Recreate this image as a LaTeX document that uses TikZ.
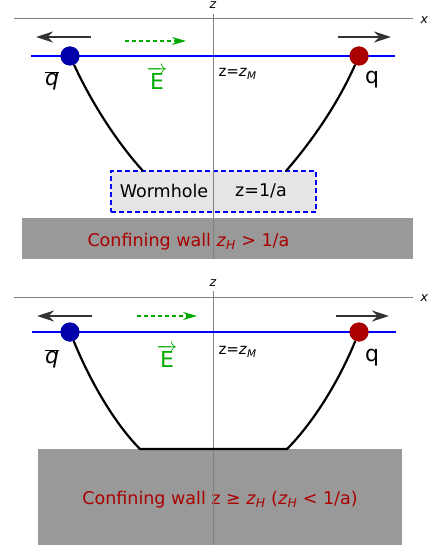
\documentclass[tikz,border=0pt]{standalone}
\usepackage{fontspec}
\setmainfont{DejaVu Sans}
\usepackage{tikz}
\usetikzlibrary{positioning,arrows.meta,calc}
\usepackage{xcolor}
\definecolor{quarkBlue}{HTML}{0000AA}
\definecolor{quarkRed}{HTML}{AA0000}
\definecolor{fieldGreen}{HTML}{00AA00}
\definecolor{wallGray}{HTML}{999999}
\definecolor{holeGray}{HTML}{E6E6E6}
\definecolor{axisGray}{HTML}{808080}

\begin{document}
\begin{tikzpicture}[x=1pt, y=-1pt,
    axisLine/.style={draw=axisGray, line width=1pt},
    braneLine/.style={draw=blue, line width=2pt},
    stringLine/.style={draw=black, line width=2.2pt},
    antiNode/.style={circle, fill=quarkBlue, inner sep=0pt, minimum size=19pt},
    quarkNode/.style={circle, fill=quarkRed, inner sep=0pt, minimum size=19pt},
    pullArrow/.style={-{Stealth[length=17pt,width=11pt]}, line width=1.6pt, draw=black!80},
    fieldArrow/.style={-{Stealth[length=14pt,width=8pt]}, dash pattern=on 4pt off 3pt, line width=1.1pt, draw=fieldGreen},
    wallBox/.style={rectangle, fill=wallGray, inner sep=0pt},
    holeBox/.style={rectangle, fill=holeGray, draw=blue, dash pattern=on 5pt off 3pt, line width=1.8pt, inner sep=0pt},
    axisFont/.style={font=\fontsize{12.5}{14}\selectfont\itshape},
    bigFont/.style={font=\fontsize{22}{24}\selectfont},
    smallFont/.style={font=\fontsize{15}{17}\selectfont},
    labelFont/.style={font=\fontsize{17.5}{20}\selectfont}
]
    \useasboundingbox (0,0) rectangle (429,545);

    % Panel (a)
    \node[wallBox, minimum width=391pt, minimum height=41pt] (wallA) at (217.5,238.5) {};
    \node[holeBox, minimum width=205pt, minimum height=41pt] (holeA) at (213.5,191.5) {};
    \node[labelFont, anchor=west, text=quarkRed] at (84,242) {Confining wall \textit{z}\textsubscript{\textit{H}} > 1/a};
    \node[labelFont] at (164,191) {Wormhole};
    \node[labelFont] at (261,191) {z=1/a};

    \coordinate (zTopA) at (213,14);
    \coordinate (zBotA) at (213,259);
    \coordinate (xLeftA) at (14,19);
    \coordinate (xRightA) at (413,19);
    \draw[axisLine] (zTopA) -- (zBotA);
    \draw[axisLine] (xLeftA) -- (xRightA);
    \node[axisFont] at (213,5) {z};
    \node[axisFont, anchor=west] at (417,20) {x};

    \coordinate (braneLA) at (31,56);
    \coordinate (braneRA) at (395,56);
    \draw[braneLine] (braneLA) -- (braneRA);

    \coordinate (endLA) at (143,171);
    \coordinate (endRA) at (286,171);
    \node[antiNode] (qbarA) at (70,56) {};
    \node[quarkNode] (qA) at (359,56) {};
    \draw[stringLine] (qbarA) .. controls (95,110) and (122,148) .. (endLA);
    \draw[stringLine] (qA) .. controls (335,110) and (306,148) .. (endRA);
    \node[antiNode] at (70,56) {};
    \node[quarkNode] at (359,56) {};

    \coordinate (pullLA) at (91,37);
    \coordinate (pullLB) at (36,37);
    \coordinate (pullRA) at (338,37);
    \coordinate (pullRB) at (391,37);
    \draw[pullArrow] (pullLA) -- (pullLB);
    \draw[pullArrow] (pullRA) -- (pullRB);
    \coordinate (fieldA1) at (125,41);
    \coordinate (fieldA2) at (186,41);
    \draw[fieldArrow] (fieldA1) -- (fieldA2);

    \node[bigFont] at (52,81) {$\overline{\hbox{\itshape q}}$};
    \node[bigFont, text=fieldGreen] at (157,78) {$\overrightarrow{\hbox{E}}$};
    \node[smallFont, anchor=west] at (215,74) {z=\textit{z}\textsubscript{\textit{M}}};
    \node[bigFont] at (372,80) {q};

    % Panel (b)
    \node[wallBox, minimum width=364pt, minimum height=96pt] (wallB) at (220,497) {};
    \node[labelFont, text=quarkRed] at (220,500) {Confining wall z ≥ \textit{z}\textsubscript{\textit{H}} (\textit{z}\textsubscript{\textit{H}} < 1/a)};

    \coordinate (zTopB) at (213,291);
    \coordinate (zBotB) at (213,545);
    \coordinate (xLeftB) at (14,297);
    \coordinate (xRightB) at (413,297);
    \draw[axisLine] (zTopB) -- (zBotB);
    \draw[axisLine] (xLeftB) -- (xRightB);
    \node[axisFont] at (213,283) {z};
    \node[axisFont, anchor=west] at (417,298) {x};

    \coordinate (braneLB) at (32,332);
    \coordinate (braneRB) at (396,332);
    \draw[braneLine] (braneLB) -- (braneRB);

    \coordinate (endLB) at (140,449);
    \coordinate (endRB) at (287,449);
    \node[antiNode] (qbarB) at (70,332) {};
    \node[quarkNode] (qB) at (359,332) {};
    \draw[stringLine] (qbarB) .. controls (93,388) and (118,427) .. (endLB) -- (endRB)
        .. controls (309,427) and (336,388) .. (qB);
    \node[antiNode] at (70,332) {};
    \node[quarkNode] at (359,332) {};

    \coordinate (pullLC) at (92,316);
    \coordinate (pullLD) at (37,316);
    \coordinate (pullRC) at (336,316);
    \coordinate (pullRD) at (389,316);
    \draw[pullArrow] (pullLC) -- (pullLD);
    \draw[pullArrow] (pullRC) -- (pullRD);
    \coordinate (fieldB1) at (137,316);
    \coordinate (fieldB2) at (197,316);
    \draw[fieldArrow] (fieldB1) -- (fieldB2);

    \node[bigFont] at (52,359) {$\overline{\hbox{\itshape q}}$};
    \node[bigFont, text=fieldGreen] at (167,356) {$\overrightarrow{\hbox{E}}$};
    \node[smallFont, anchor=west] at (215,352) {z=\textit{z}\textsubscript{\textit{M}}};
    \node[bigFont] at (372,358) {q};
\end{tikzpicture}
\end{document}
